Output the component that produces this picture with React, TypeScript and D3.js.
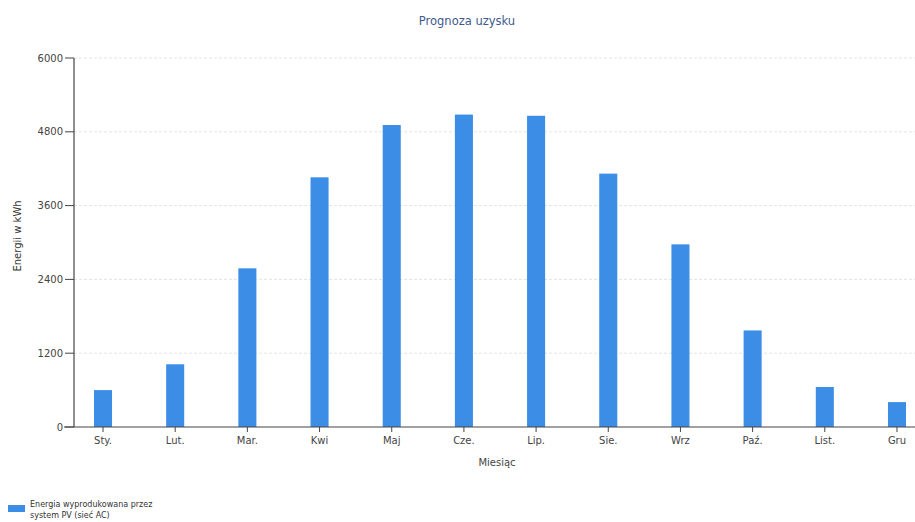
import React from "react";
import * as d3 from "d3";

const months = ["Sty.", "Lut.", "Mar.", "Kwi", "Maj", "Cze.", "Lip.", "Sie.", "Wrz", "Paź.", "List.", "Gru"];
const energy = [600, 1020, 2580, 4060, 4910, 5080, 5060, 4120, 2970, 1570, 650, 405];
const yTicks = [0, 1200, 2400, 3600, 4800, 6000];
const title = "Prognoza uzysku";
const yLabel = "Energii w kWh";
const xLabel = "Miesiąc";
const legendLines = ["Energia wyprodukowana przez", "system PV (sieć AC)"];

const W = 915;
const H = 522;
const font = "'DejaVu Sans', Verdana, sans-serif";
const barColor = "#3b8de6";

export default function App() {
  const x = d3.scaleBand<string>().domain(months).range([74, 926]).paddingInner(0.75).paddingOuter(0.277);
  const y = d3.scaleLinear().domain([0, 6000]).range([427, 58]);
  const x0 = 74;
  const yBase = y(0);

  return (
    <svg width={W} height={H} style={{ position: "absolute", left: 0, top: 0, background: "#fff" }} fontFamily={font}>
      <text x={467} y={25} textAnchor="middle" fontSize={11.5} fill="#3d5a8c">{title}</text>
      {yTicks.filter(t => t > 0).map(t => (
        <line key={"g" + t} x1={x0} x2={W} y1={y(t)} y2={y(t)} stroke="#e4e4e4" strokeDasharray="3,2" strokeWidth={1} />
      ))}
      {energy.map((v, i) => (
        <rect key={months[i]} x={x(months[i])} y={y(v)} width={x.bandwidth()} height={yBase - y(v)} fill={barColor} />
      ))}
      <line x1={x0} x2={x0} y1={y(6000)} y2={yBase} stroke="#444" strokeWidth={1.2} />
      <line x1={64} x2={W} y1={yBase} y2={yBase} stroke="#444" strokeWidth={1.2} />
      {yTicks.map(t => (
        <g key={"t" + t}>
          <line x1={x0 - 9} x2={x0} y1={y(t)} y2={y(t)} stroke="#444" strokeWidth={1} />
          <text x={x0 - 11} y={y(t)} dy="0.35em" textAnchor="end" fontSize={10} fill="#444">{t}</text>
        </g>
      ))}
      {months.map(m => {
        const cx = (x(m) as number) + x.bandwidth() / 2;
        return (
          <g key={"x" + m}>
            <line x1={cx} x2={cx} y1={yBase} y2={yBase + 5} stroke="#444" strokeWidth={1} />
            <text x={cx} y={yBase + 17} textAnchor="middle" fontSize={10} fill="#444">{m}</text>
          </g>
        );
      })}
      <text x={497} y={466} textAnchor="middle" fontSize={10} fill="#444">{xLabel}</text>
      <text transform={`translate(21,${236}) rotate(-90)`} textAnchor="middle" fontSize={10} fill="#333">{yLabel}</text>
      <rect x={8} y={505} width={17} height={7} fill={barColor} />
      {legendLines.map((l, i) => (
        <text key={l} x={30} y={507 + i * 11} fontSize={8} fill="#333">{l}</text>
      ))}
    </svg>
  );
}
